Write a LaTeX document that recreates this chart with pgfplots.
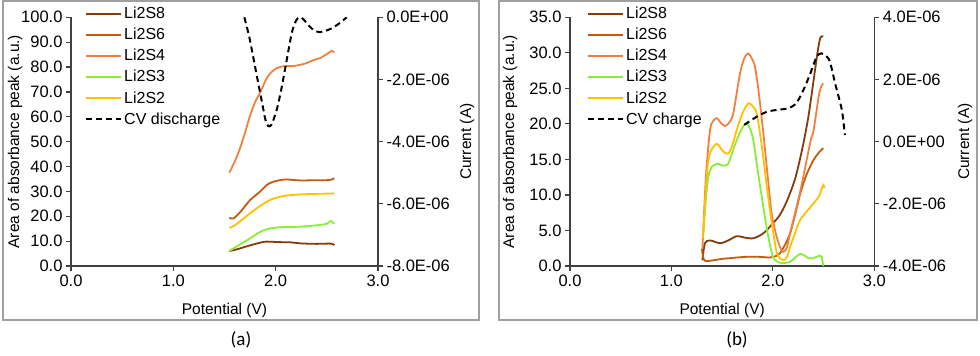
\documentclass[border=0pt]{standalone}
\usepackage{fontspec}
\setmainfont{Liberation Sans}
\newfontfamily\capfont{Carlito}
\usepackage{pgfplots}
\pgfplotsset{compat=1.18}

\definecolor{cS8}{HTML}{843C0C}
\definecolor{cS6}{HTML}{C55A11}
\definecolor{cS4}{HTML}{F08040}
\definecolor{cS3}{HTML}{88EE33}
\definecolor{cS2}{HTML}{FFC000}
\definecolor{axgray}{HTML}{404040}

\pgfplotsset{
  base/.style={
    scale only axis, anchor=south west, height=248.7pt,
    xmin=0, xmax=3,
    tick align=outside, major tick length=5pt,
    axis line style={-, line width=1.2pt, color=axgray},
    tick style={line width=1.2pt, color=axgray},
    ticklabel style={font=\fontsize{16.5}{18}\selectfont},
    label style={font=\fontsize{15.5}{17}\selectfont},
    /pgf/number format/assume math mode=true,
    every axis plot/.append style={line width=1.8pt, no markers, smooth, tension=0.45},
  },
  ylab/.style={every axis y label/.style={at={(axis description cs:#1,0.5)},
    anchor=center, rotate=90, font=\fontsize{15.5}{17}\selectfont}},
  mainax/.style={
    base,
    axis x line*=bottom, axis y line*=left,
    xtick={0,1,2,3},
    xticklabel style={/pgf/number format/.cd, fixed, fixed zerofill, precision=1},
    yticklabel style={/pgf/number format/.cd, fixed, fixed zerofill, precision=1},
    xlabel={Potential (V)},
    xlabel style={at={(axis description cs:0.5,-0.135)}, anchor=north},
    ylabel={Area of absorbance peak (a.u.)},
    legend cell align=left,
    legend image code/.code={\draw[##1, line width=2.2pt] (0pt,0pt) -- (35pt,0pt);},
    legend style={draw=none, fill=none, font=\fontsize{16}{18}\selectfont,
      anchor=north west, row sep=4pt, inner sep=0pt},
  },
  secax/.style={
    base,
    axis x line=none, axis y line*=right,
    scaled y ticks=false,
    ylabel={Current (A)},
  },
}

\begin{document}
\begin{tikzpicture}[x=1pt,y=1pt]
\path[use as bounding box] (0,0) rectangle (980,356);
\draw[gray!75, line width=1.2pt] (3,36) rectangle (479,355);
\draw[gray!75, line width=1.2pt] (499,36) rectangle (977,355);

% ---------- (a) discharge ----------
\begin{axis}[mainax, at={(71pt,90pt)}, width=307pt,
    ymin=0, ymax=100, ytick={0,10,...,100},
    ylab=-0.182,
    legend style={at={(axis description cs:0.045,1.05)}}]
\addplot[cS8] coordinates {(1.547,6.0)(1.62,6.7)(1.75,8.3)(1.85,9.4)(1.91,9.8)(2.04,9.6)(2.15,9.5)(2.24,9.1)(2.40,8.9)(2.54,9.0)(2.573,8.4)};
\addlegendentry{Li2S8}
\addplot[cS6] coordinates {(1.547,19.4)(1.586,19.1)(1.65,21.5)(1.75,26.5)(1.85,30.0)(1.91,32.5)(1.97,33.8)(2.04,34.5)(2.10,34.8)(2.24,34.4)(2.40,34.5)(2.50,34.5)(2.55,34.8)(2.573,35.3)};
\addlegendentry{Li2S6}
\addplot[cS4] coordinates {(1.547,37.5)(1.60,42)(1.645,46.6)(1.70,53.5)(1.75,60.5)(1.80,66)(1.847,69.6)(1.90,74.5)(1.945,77.4)(2.0,79.3)(2.042,80.0)(2.10,80.4)(2.172,80.4)(2.24,80.9)(2.303,81.6)(2.37,82.8)(2.433,83.6)(2.50,85.2)(2.548,86.5)(2.573,85.8)};
\addlegendentry{Li2S4}
\addplot[cS3] coordinates {(1.547,6.0)(1.60,7.4)(1.75,11.1)(1.85,13.8)(1.945,15.1)(2.05,15.6)(2.24,15.8)(2.43,16.5)(2.50,17.0)(2.54,18.1)(2.573,16.9)};
\addlegendentry{Li2S3}
\addplot[cS2] coordinates {(1.547,15.4)(1.60,16.3)(1.75,21.2)(1.85,24.2)(1.91,25.8)(1.97,27.0)(2.04,27.8)(2.10,28.3)(2.24,28.8)(2.40,29.0)(2.573,29.2)};
\addlegendentry{Li2S2}
\addlegendimage{black, line width=2pt, dash pattern=on 6pt off 4pt}
\addlegendentry{CV discharge}
\end{axis}
\begin{axis}[secax, at={(71pt,90pt)}, width=307pt,
    ymin=-8e-6, ymax=0, ytick={-8e-6,-6e-6,-4e-6,-2e-6,0},
    yticklabels={-8.0E-06,-6.0E-06,-4.0E-06,-2.0E-06,0.0E+00},
    ylab=1.29]
\addplot[black, line width=2pt, dash pattern=on 6pt off 4pt] coordinates {(1.694,0)(1.74,-0.6e-6)(1.78,-1.27e-6)(1.82,-1.95e-6)(1.862,-2.66e-6)(1.90,-3.3e-6)(1.927,-3.5e-6)(1.96,-3.45e-6)(2.01,-2.98e-6)(2.05,-2.4e-6)(2.09,-1.7e-6)(2.157,-0.51e-6)(2.20,-0.1e-6)(2.235,0)(2.27,-0.06e-6)(2.32,-0.25e-6)(2.37,-0.41e-6)(2.43,-0.48e-6)(2.50,-0.42e-6)(2.55,-0.35e-6)(2.62,-0.2e-6)(2.694,0)};
\end{axis}

% ---------- (b) charge ----------
\begin{axis}[mainax, at={(570pt,90pt)}, width=304.3pt,
    ymin=0, ymax=35, ytick={0,5,...,35},
    ylab=-0.197,
    legend style={at={(axis description cs:0.055,1.05)}}]
\addplot[cS8] coordinates {(1.305,0.8)(1.33,3.2)(1.38,3.6)(1.48,3.2)(1.56,3.6)(1.643,4.2)(1.72,4.0)(1.807,3.9)(1.906,4.6)(2.0,6.0)(2.07,7.2)(2.14,9.2)(2.22,12.3)(2.29,16.5)(2.35,21.0)(2.41,27.0)(2.445,30.5)(2.47,32.2)(2.497,32.3)};
\addlegendentry{Li2S8}
\addplot[cS6] coordinates {(1.30,2.4)(1.32,0.9)(1.36,0.7)(1.5,1.0)(1.65,1.2)(1.75,1.3)(1.85,1.3)(1.97,1.2)(2.03,1.4)(2.07,1.8)(2.12,3.0)(2.17,4.6)(2.22,7.3)(2.27,10.2)(2.33,12.8)(2.40,14.9)(2.45,15.9)(2.497,16.6)};
\addlegendentry{Li2S6}
\addplot[cS4] coordinates {(1.305,2.4)(1.314,5)(1.33,10)(1.347,14)(1.375,18.5)(1.397,20.1)(1.446,20.8)(1.49,20.1)(1.528,19.7)(1.57,20.2)(1.61,21.5)(1.676,27.1)(1.72,29.3)(1.758,29.9)(1.80,29.0)(1.824,28.0)(1.86,24.5)(1.906,18.7)(1.95,12.5)(1.988,7.4)(2.03,4.5)(2.07,2.7)(2.10,2.0)(2.136,2.5)(2.17,4.6)(2.27,10.5)(2.37,17.5)(2.40,19.0)(2.46,24.5)(2.497,25.7)};
\addlegendentry{Li2S4}
\addplot[cS3] coordinates {(1.305,4.2)(1.314,4.6)(1.34,9.5)(1.364,12.6)(1.40,14.0)(1.46,14.4)(1.51,14.1)(1.56,14.4)(1.60,16.0)(1.643,17.7)(1.70,19.5)(1.742,20.1)(1.77,19.5)(1.807,17.7)(1.85,13.5)(1.906,8.3)(1.95,4.5)(2.0,1.3)(2.05,0.6)(2.10,0.4)(2.17,0.6)(2.22,1.2)(2.27,1.7)(2.31,1.5)(2.35,1.1)(2.40,1.1)(2.45,1.4)(2.48,1.3)(2.497,0)};
\addlegendentry{Li2S3}
\addplot[cS2] coordinates {(1.305,4.0)(1.314,4.6)(1.34,11)(1.364,14.9)(1.40,16.5)(1.446,17.2)(1.48,16.7)(1.512,16.1)(1.56,15.8)(1.60,17.0)(1.643,19.1)(1.70,21.5)(1.758,22.9)(1.80,22.5)(1.84,21.5)(1.89,17.0)(1.94,11.2)(1.99,6.0)(2.04,1.8)(2.10,0.8)(2.14,1.3)(2.17,2.7)(2.22,4.7)(2.27,6.5)(2.37,8.3)(2.45,9.7)(2.48,10.8)(2.497,11.4)(2.51,11.0)};
\addlegendentry{Li2S2}
\addlegendimage{black, line width=2pt, dash pattern=on 6pt off 4pt}
\addlegendentry{CV charge}
\end{axis}
\begin{axis}[secax, at={(570pt,90pt)}, width=304.3pt,
    ymin=-4e-6, ymax=4e-6, ytick={-4e-6,-2e-6,0,2e-6,4e-6},
    yticklabels={-4.0E-06,-2.0E-06,0.0E+00,2.0E-06,4.0E-06},
    ylab=1.298]
\addplot[black, line width=2pt, dash pattern=on 6pt off 4pt] coordinates {(1.718,0.54e-6)(1.80,0.72e-6)(1.873,0.86e-6)(1.95,0.97e-6)(2.037,1.02e-6)(2.15,1.07e-6)(2.22,1.2e-6)(2.27,1.45e-6)(2.32,1.8e-6)(2.37,2.2e-6)(2.432,2.73e-6)(2.48,2.84e-6)(2.547,2.68e-6)(2.58,2.35e-6)(2.613,1.88e-6)(2.68,1.02e-6)(2.71,0.21e-6)};
\end{axis}

\node[font=\capfont\fontsize{19}{21}\selectfont] at (241,16) {(a)};
\node[font=\capfont\fontsize{19}{21}\selectfont] at (737,16) {(b)};
\end{tikzpicture}
\end{document}
